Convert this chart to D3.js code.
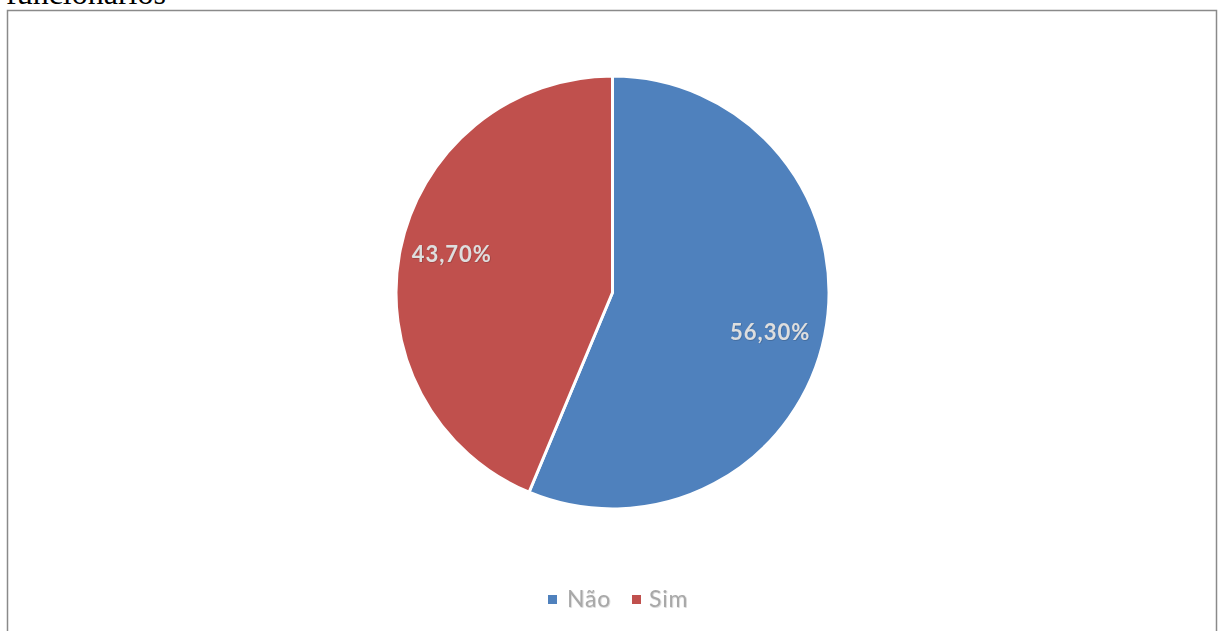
<!DOCTYPE html>
<html>
<head>
<meta charset="utf-8">
<script src="https://cdn.jsdelivr.net/npm/d3@7"></script>
<style>
  html, body { margin: 0; padding: 0; background: #fff; overflow: hidden; }
</style>
</head>
<body>
<svg id="chart" width="1218" height="631"></svg>
<script>
// Responses to the survey question
const categories = ["Não", "Sim"];
const values = [56.3, 43.7];
const valueLabels = ["56,30%", "43,70%"];
const colors = ["#4F81BD", "#C0504D"];
const title = "funcionários";

const svg = d3.select("#chart");

// Soft shadow used by the data labels and legend text
const defs = svg.append("defs");
const glow = defs.append("filter").attr("id", "soft")
  .attr("x", "-10%").attr("y", "-20%").attr("width", "120%").attr("height", "140%");
glow.append("feDropShadow")
  .attr("dx", 0.6).attr("dy", 0.6).attr("stdDeviation", 0.6)
  .attr("flood-color", "#000").attr("flood-opacity", 0.25);

// Heading text above the framed chart (partly clipped by the page top)
svg.append("text")
  .attr("x", 6)
  .attr("y", 4)
  .attr("font-family", "Liberation Serif, Times New Roman, serif")
  .attr("font-size", 32)
  .attr("fill", "#000")
  .text(title);

// Chart frame
svg.append("rect")
  .attr("x", 7.5)
  .attr("y", 10.5)
  .attr("width", 1209)
  .attr("height", 640)
  .attr("fill", "#fff")
  .attr("stroke", "#8a8a8a")
  .attr("stroke-width", 1.5);

const cx = 612.5, cy = 292.5, R = 216.5;

const pie = d3.pie().sort(null).value(d => d)(values);
const arc = d3.arc().innerRadius(0).outerRadius(R);
const labelArc = d3.arc().innerRadius(R * 0.75).outerRadius(R * 0.75);
// Small label offsets from the slice centroids
const labelNudge = [[-1.5, 7.5], [-1.5, -6.5]];

const g = svg.append("g").attr("transform", `translate(${cx},${cy})`);

g.selectAll("path.slice")
  .data(pie)
  .join("path")
  .attr("class", "slice")
  .attr("d", arc)
  .attr("fill", (d, i) => colors[i])
  .attr("stroke", "#fff")
  .attr("stroke-width", 3)
  .attr("stroke-linejoin", "round");

g.selectAll("text.value")
  .data(pie)
  .join("text")
  .attr("class", "value")
  .attr("transform", (d, i) => {
    const [x, y] = labelArc.centroid(d);
    return `translate(${x + labelNudge[i][0]},${y + labelNudge[i][1]})`;
  })
  .attr("text-anchor", "middle")
  .attr("dy", "0.35em")
  .attr("font-family", "Lato, Open Sans, sans-serif")
  .attr("font-weight", "bold")
  .attr("font-size", 22)
  .attr("letter-spacing", 1)
  .attr("fill", "#dedede")
  .attr("filter", "url(#soft)")
  .text((d, i) => valueLabels[i]);

// Legend
const legendItems = [
  { x: 548, textX: 567 },
  { x: 632, textX: 649 }
];
const legend = svg.append("g");
categories.forEach((c, i) => {
  legend.append("rect")
    .attr("x", legendItems[i].x)
    .attr("y", 595)
    .attr("width", 9)
    .attr("height", 9)
    .attr("fill", colors[i]);
  legend.append("text")
    .attr("x", legendItems[i].textX)
    .attr("y", 607)
    .attr("font-family", "Lato, Open Sans, sans-serif")
    .attr("font-size", 23)
    .attr("letter-spacing", 0.8)
    .attr("fill", "#a8a8a8")
    .attr("filter", "url(#soft)")
    .text(c);
});
</script>
</body>
</html>
